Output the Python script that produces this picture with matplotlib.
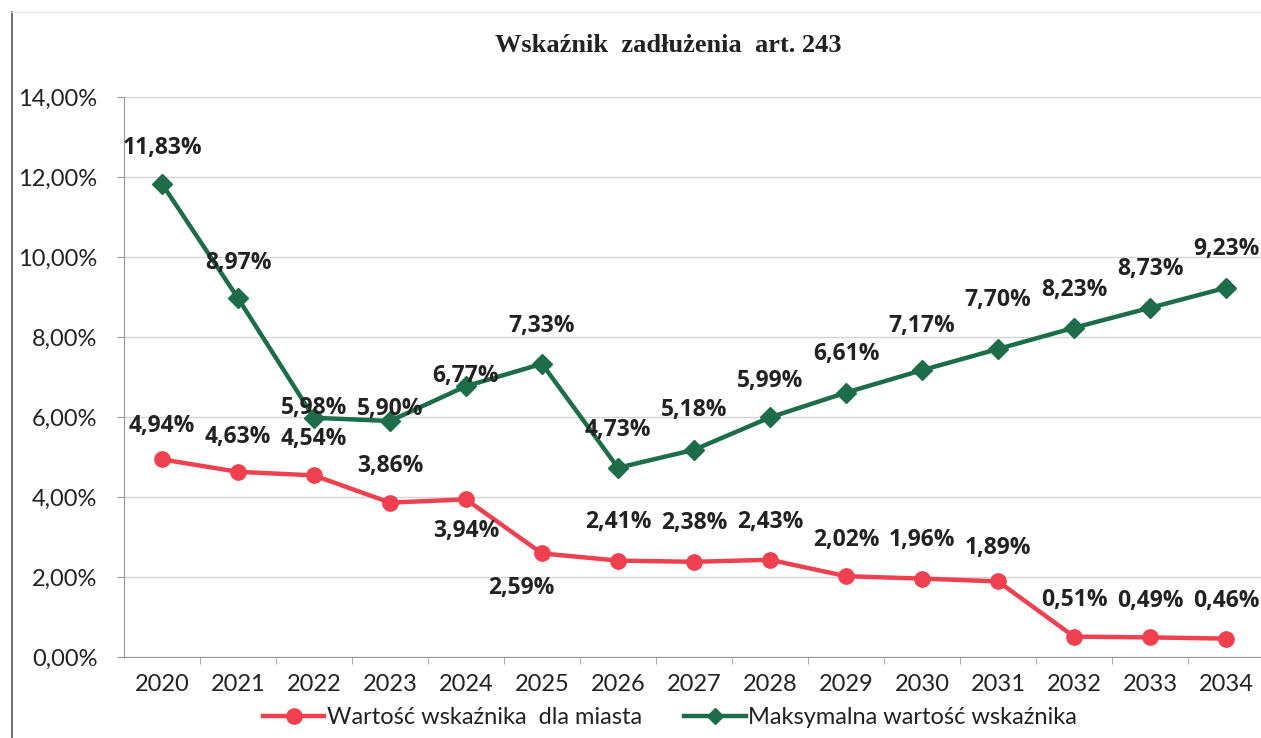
import matplotlib.pyplot as plt
from matplotlib.lines import Line2D
from matplotlib.ticker import FixedLocator, FuncFormatter

years = [str(y) for y in range(2020, 2035)]
city = [4.94, 4.63, 4.54, 3.86, 3.94, 2.59, 2.41, 2.38, 2.43, 2.02, 1.96, 1.89, 0.51, 0.49, 0.46]
maximum = [11.83, 8.97, 5.98, 5.90, 6.77, 7.33, 4.73, 5.18, 5.99, 6.61, 7.17, 7.70, 8.23, 8.73, 9.23]

# label offsets in points (dx, dy) relative to each marker
city_off = [(0, 24), (0, 25), (0, 26), (0, 26), (0, -23), (-15, -25), (0, 28), (0, 28), (0, 27),
            (0, 26), (0, 28), (0, 24), (0, 26), (0, 26), (0, 27)]
max_off = [(0, 26), (0, 25), (0, 7), (0, 9), (0, 7), (0, 27), (0, 27), (0, 29), (0, 26),
           (0, 28), (0, 32), (0, 35), (0, 27), (0, 28), (0, 28)]

red = "#ef4050"
green = "#1d6e48"
grid_c = "#d4d4d4"

W, H = 1261, 738
fig = plt.figure(figsize=(W / 100, H / 100), dpi=100)
ax = fig.add_axes([124 / W, 81 / H, 1140 / W, 560 / H])

x = list(range(len(years)))
ax.plot(x, city, color=red, lw=3.2, marker="o", ms=11, zorder=3)
ax.plot(x, maximum, color=green, lw=3.2, marker="D", ms=10, zorder=3)

lab = dict(ha="center", va="center", fontsize=16.5, fontweight="bold", color="#222222",
           family="Open Sans", textcoords="offset points", zorder=4)
for i, v in enumerate(city):
    ax.annotate(f"{v:.2f}%".replace(".", ","), (i, v), xytext=city_off[i], **lab)
for i, v in enumerate(maximum):
    ax.annotate(f"{v:.2f}%".replace(".", ","), (i, v), xytext=max_off[i], **lab)

ax.set_xlim(-0.5, len(years) - 0.5)
ax.set_ylim(0, 14)
ax.yaxis.set_major_locator(FixedLocator(range(0, 15, 2)))
ax.yaxis.set_major_formatter(FuncFormatter(lambda v, p: f"{v:.2f}%".replace(".", ",")))
ax.set_xticks(x)
ax.set_xticklabels(years)
ax.set_xticks([i + 0.5 for i in x[:-1]], minor=True)
ax.tick_params(axis="x", which="major", length=0, pad=12, labelsize=17, labelcolor="#222222")
ax.tick_params(axis="x", which="minor", length=5, color="#999999", direction="out")
ax.tick_params(axis="y", length=5, color="#999999", pad=14, labelsize=17, labelcolor="#222222")
for t in ax.get_xticklabels() + ax.get_yticklabels():
    t.set_family("Lato")
ax.grid(axis="y", color=grid_c, lw=1)
for s in ["top", "right"]:
    ax.spines[s].set_visible(False)
ax.spines["left"].set_color("#999999")
ax.spines["bottom"].set_color("#999999")

fig.text(668 / W, 1 - 46 / H, "Wskaźnik  zadłużenia  art. 243", ha="center", va="center",
         fontsize=19, fontweight="bold", family="Liberation Serif", color="#222222")

handles = [Line2D([], [], color=red, lw=3.2, marker="o", ms=11),
           Line2D([], [], color=green, lw=3.2, marker="D", ms=8)]
fig.legend(handles, ["Wartość wskaźnika  dla miasta", "Maksymalna wartość wskaźnika"],
           loc="center", bbox_to_anchor=(670 / W, 1 - 718 / H), ncol=2, frameon=False,
           prop={"family": "Lato", "size": 17}, handlelength=2.6, handletextpad=0.1,
           columnspacing=1.8, labelcolor="#222222")

# scanned page border
fig.add_artist(Line2D([12 / W, 12 / W], [0, 1 - 12 / H], color="#555555", lw=1.2))
fig.add_artist(Line2D([12 / W, 1], [1 - 12 / H, 1 - 12 / H], color="#e6e6e6", lw=1))

fig.savefig("out.png", dpi=100)
